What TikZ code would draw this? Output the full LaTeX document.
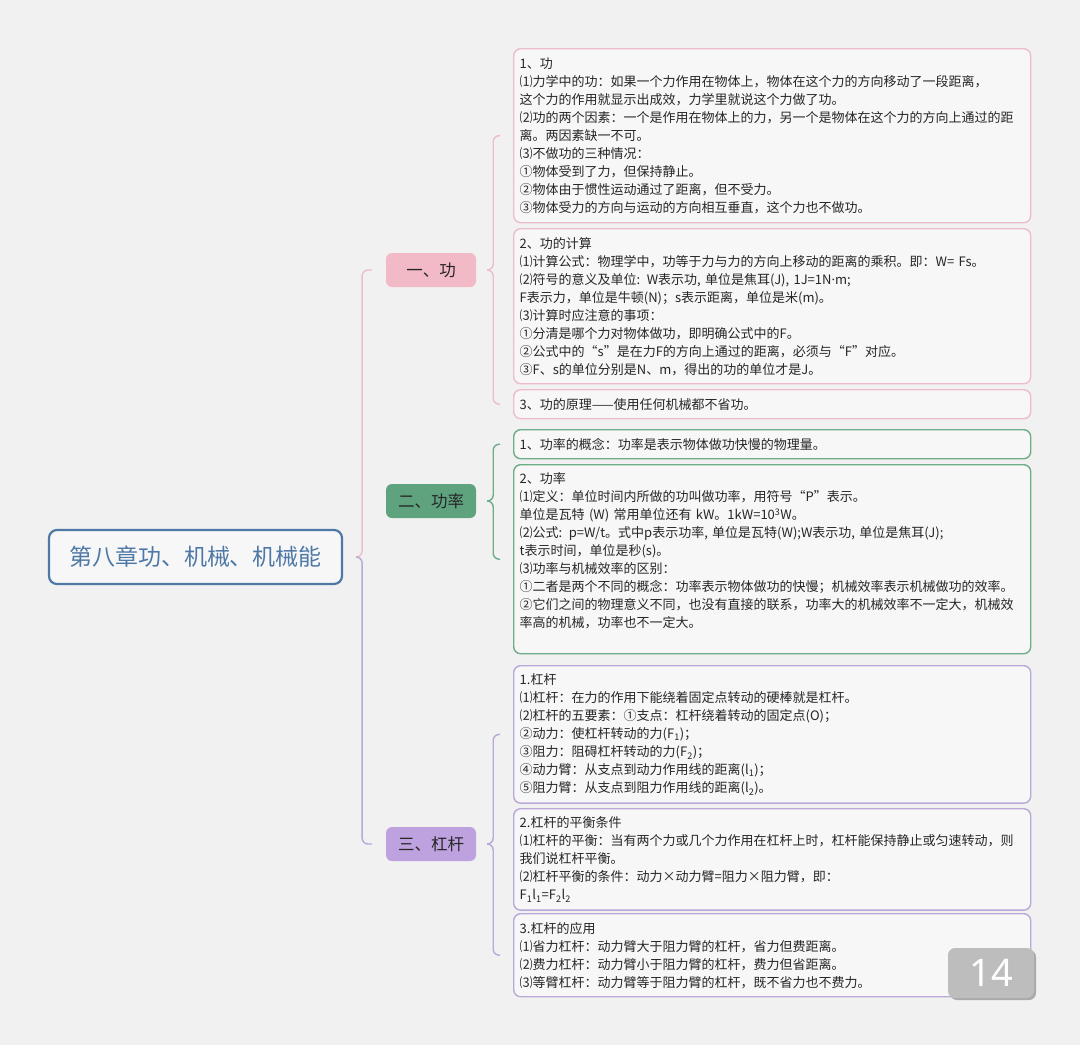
\documentclass[tikz,border=0pt]{standalone}
\usepackage{fontspec}
\newfontfamily\cjkfont{Noto Sans CJK SC}
\newfontfamily\numfont{Noto Sans}
\usetikzlibrary{shadows}

\definecolor{bggray}{HTML}{F1F1F1}
\definecolor{rootblue}{HTML}{4E78A6}
\definecolor{pinkfill}{HTML}{F2B9C7}
\definecolor{pinkline}{HTML}{EDBDCA}
\definecolor{greenfill}{HTML}{5FA37E}
\definecolor{greenline}{HTML}{6EAD88}
\definecolor{purplefill}{HTML}{BEA2DF}
\definecolor{purpleline}{HTML}{B9A8D8}
\definecolor{badgegray}{HTML}{BDBDBD}

\tikzset{
  rootbox/.style={draw=rootblue, line width=2.2pt, rounded corners=8pt,
    fill=white!40!bggray, minimum width=293pt, minimum height=54pt,
    text=rootblue, font=\cjkfont\fontsize{23}{27}\selectfont},
  topic/.style={rounded corners=6pt, minimum width=90pt, minimum height=34pt,
    text=black!85, font=\cjkfont\fontsize{16.5}{20}\selectfont},
  leaf/.style={draw, line width=1.4pt, rounded corners=7pt, fill=white!40!bggray,
    anchor=north west, text width=505pt, inner xsep=6pt, inner ysep=8pt,
    align=left, text=black!85, font=\cjkfont\fontsize{13}{18}\selectfont},
  brace/.style={line width=1.4pt, rounded corners=6pt},
  badge/.style={fill=badgegray, rounded corners=7pt, minimum width=86pt,
    minimum height=50pt, text=white, font=\numfont\fontsize{38}{40}\selectfont,
    drop shadow={shadow xshift=2pt, shadow yshift=-2pt, fill=black!45, opacity=0.7}},
}

\begin{document}
\begin{tikzpicture}[x=1pt, y=-1pt]

% page and background
\useasboundingbox (0,0) rectangle (1080,1045);
\fill[bggray] (0,0) rectangle (1080,1045);

% root
\node[rootbox] (root) at (195.5,557) {第八章功、机械、机械能};

% topics
\node[topic, fill=pinkfill] (t1) at (431,270) {一、功};
\node[topic, fill=greenfill] (t2) at (431,501) {二、功率};
\node[topic, fill=purplefill] (t3) at (431,844) {三、杠杆};

% work boxes
\node[leaf, draw=pinkline, minimum height=174pt] (a1) at (513,48) {%
1、功\\
⑴力学中的功：如果一个力作用在物体上，物体在这个力的方向移动了一段距离，\\
这个力的作用就显示出成效，力学里就说这个力做了功。\\
⑵功的两个因素：一个是作用在物体上的力，另一个是物体在这个力的方向上通过的距\\
离。两因素缺一不可。\\
⑶不做功的三种情况：\\
①物体受到了力，但保持静止。\\
②物体由于惯性运动通过了距离，但不受力。\\
③物体受力的方向与运动的方向相互垂直，这个力也不做功。};
\node[leaf, draw=pinkline, minimum height=155pt] (a2) at (513,228) {%
2、功的计算\\
⑴计算公式：物理学中，功等于力与力的方向上移动的距离的乘积。即：W= Fs。\\
⑵符号的意义及单位: W表示功, 单位是焦耳(J), 1J=1N{\numfont·}m;\\
F表示力，单位是牛顿(N)；s表示距离，单位是米(m)。\\
⑶计算时应注意的事项：\\
①分清是哪个力对物体做功，即明确公式中的F。\\
②公式中的“s”是在力F的方向上通过的距离，必须与“F”对应。\\
③F、s的单位分别是N、m，得出的功的单位才是J。};
\node[leaf, draw=pinkline, minimum height=29pt] (a3) at (513,389) {%
3、功的原理——使用任何机械都不省功。};

% power boxes
\node[leaf, draw=greenline, minimum height=29pt] (b1) at (513,429) {%
1、功率的概念：功率是表示物体做功快慢的物理量。};
\node[leaf, draw=greenline] (b2) at (513,464) {%
2、功率\\
⑴定义：单位时间内所做的功叫做功率，用符号“P”表示。\\
单位是瓦特 (W) 常用单位还有 kW。1kW=10\textsuperscript{3}W。\\
⑵公式: p=W/t。式中p表示功率, 单位是瓦特(W);W表示功, 单位是焦耳(J);\\
t表示时间，单位是秒(s)。\\
⑶功率与机械效率的区别：\\
①二者是两个不同的概念：功率表示物体做功的快慢；机械效率表示机械做功的效率。\\
②它们之间的物理意义不同，也没有直接的联系，功率大的机械效率不一定大，机械效\\
率高的机械，功率也不一定大。\\
\mbox{}};

% lever boxes
\node[leaf, draw=purpleline, minimum height=137pt] (c1) at (513,665) {%
1.杠杆\\
⑴杠杆：在力的作用下能绕着固定点转动的硬棒就是杠杆。\\
⑵杠杆的五要素：①支点：杠杆绕着转动的固定点(O)；\\
②动力：使杠杆转动的力(F\textsubscript{1})；\\
③阻力：阻碍杠杆转动的力(F\textsubscript{2})；\\
④动力臂：从支点到动力作用线的距离(l\textsubscript{1})；\\
⑤阻力臂：从支点到阻力作用线的距离(l\textsubscript{2})。};
\node[leaf, draw=purpleline, minimum height=98pt] (c2) at (513,808) {%
2.杠杆的平衡条件\\
⑴杠杆的平衡：当有两个力或几个力作用在杠杆上时，杠杆能保持静止或匀速转动，则\\
我们说杠杆平衡。\\
⑵杠杆平衡的条件：动力×动力臂=阻力×阻力臂，即：\\
F\textsubscript{1}l\textsubscript{1}=F\textsubscript{2}l\textsubscript{2}};
\node[leaf, draw=purpleline, minimum height=83pt] (c3) at (513,913) {%
3.杠杆的应用\\
⑴省力杠杆：动力臂大于阻力臂的杠杆，省力但费距离。\\
⑵费力杠杆：动力臂小于阻力臂的杠杆，费力但省距离。\\
⑶等臂杠杆：动力臂等于阻力臂的杠杆，既不省力也不费力。};

% main brace
\coordinate (rootcusp) at ([xshift=13pt]root.east);
\draw[brace, pinkline] (rootcusp) -- ++(6,0) |- ([xshift=-14pt]t1.west);
\draw[brace, purpleline] (rootcusp) -- ++(6,0) |- ([xshift=-14pt]t3.west);

% topic braces
\foreach \t/\first/\last/\col in {t1/a1/a3/pinkline, t2/b1/b2/greenline, t3/c1/c3/purpleline} {
    \coordinate (\t cusp) at ([xshift=12pt]\t.east);
    \draw[brace, \col] (\t cusp) -- ++(5,0) |- ([xshift=-13pt]\first.west);
    \draw[brace, \col] (\t cusp) -- ++(5,0) |- ([xshift=-13pt]\last.west);
}

% page number
\node[badge] (pagenum) at (991,973) {14};

\end{tikzpicture}
\end{document}
